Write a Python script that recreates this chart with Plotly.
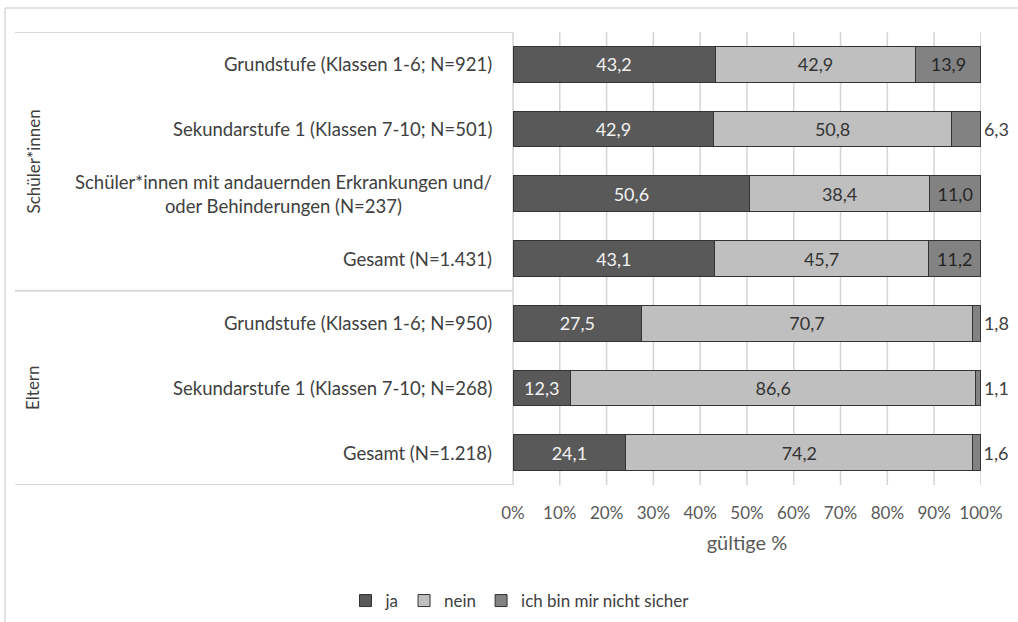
import plotly.graph_objects as go

categories = [
    "Grundstufe (Klassen 1-6; N=921)",
    "Sekundarstufe 1 (Klassen 7-10; N=501)",
    "Schüler*innen mit andauernden Erkrankungen und/<br>oder Behinderungen (N=237)",
    "Gesamt (N=1.431)",
    "Grundstufe (Klassen 1-6; N=950)",
    "Sekundarstufe 1 (Klassen 7-10; N=268)",
    "Gesamt (N=1.218)",
]
groups = ["Schüler*innen", "Eltern"]
group_members = [[0, 1, 2, 3], [4, 5, 6]]

ja = [43.2, 42.9, 50.6, 43.1, 27.5, 12.3, 24.1]
nein = [42.9, 50.8, 38.4, 45.7, 70.7, 86.6, 74.2]
unsicher = [13.9, 6.3, 11.0, 11.2, 1.8, 1.1, 1.6]
series_names = ["ja", "nein", "ich bin mir nicht sicher"]
x_ticks = [0, 10, 20, 30, 40, 50, 60, 70, 80, 90, 100]
x_tick_labels = ["0%", "10%", "20%", "30%", "40%", "50%", "60%", "70%", "80%", "90%", "100%"]
x_title = "gültige %"

FONT = "Lato"
TXT = "#404040"
FS = 17
FSL = 18.5
W, H = 1018, 622
ML, MR, MT, MB = 513, 37, 32, 137
PW, PH = W - ML - MR, H - MT - MB

def px_x(p):
    return (p - ML) / PW

def px_y(p):
    return (H - MB - p) / PH

unsicher_pos = ["inside" if v >= 10 else "outside" for v in unsicher]

fig = go.Figure()
fig.add_trace(go.Bar(
    y=categories, x=ja, name=series_names[0], orientation="h",
    marker=dict(color="#595959", line=dict(color="#333333", width=1)),
    texttemplate="%{x:.1f}", textposition="inside", insidetextanchor="middle",
    textfont=dict(color="#f2f2f2", size=18, family=FONT),
    cliponaxis=False,
))
fig.add_trace(go.Bar(
    y=categories, x=nein, name=series_names[1], orientation="h",
    marker=dict(color="#bfbfbf", line=dict(color="#333333", width=1)),
    texttemplate="%{x:.1f}", textposition="inside", insidetextanchor="middle",
    textfont=dict(color="#333333", size=18, family=FONT),
    cliponaxis=False,
))
fig.add_trace(go.Bar(
    y=categories, x=unsicher, name=series_names[2], orientation="h",
    marker=dict(color="#828282", line=dict(color="#333333", width=1)),
    texttemplate="%{x:.1f}", textposition=unsicher_pos, insidetextanchor="middle",
    textfont=dict(color="#262626", size=18, family=FONT),
    outsidetextfont=dict(color=TXT, size=18, family=FONT),
    cliponaxis=False,
))

annotations = []
for c in categories:
    annotations.append(dict(
        x=px_x(494), xref="paper", y=c, yref="y", text=c, showarrow=False,
        xanchor="right", yanchor="middle", align="center",
        font=dict(size=FSL, color=TXT, family=FONT),
    ))
for g, members in zip(groups, group_members):
    yc = (members[0] + members[-1]) / 2
    annotations.append(dict(
        x=px_x(33), xref="paper", y=yc, yref="y", text=g, showarrow=False,
        textangle=-90, xanchor="center", yanchor="middle",
        font=dict(size=FS, color=TXT, family=FONT),
    ))

line_col = "#d9d9d9"
grid_col = "#d4d4d4"
shapes = []
for t in x_ticks:
    shapes.append(dict(type="line", xref="x", yref="paper", x0=t, x1=t, y0=0, y1=1,
                       line=dict(color=grid_col, width=1.5), layer="below"))
for yb in [-0.5, 3.5, 6.5]:
    shapes.append(dict(type="line", xref="paper", yref="y", x0=px_x(15), x1=0,
                       y0=yb, y1=yb, line=dict(color=line_col, width=2), layer="below"))
shapes.append(dict(type="line", xref="paper", yref="y", x0=0, x1=0, y0=-0.5, y1=6.5,
                   line=dict(color=line_col, width=1.5), layer="below"))
shapes.append(dict(type="line", xref="paper", yref="paper", x0=px_x(5), x1=px_x(1030),
                   y0=px_y(8), y1=px_y(8), line=dict(color=line_col, width=1.5)))
shapes.append(dict(type="line", xref="paper", yref="paper", x0=px_x(5), x1=px_x(5),
                   y0=px_y(8), y1=px_y(640), line=dict(color=line_col, width=1.5)))

fig.update_layout(
    barmode="stack", bargap=0.45,
    width=W, height=H,
    margin=dict(l=ML, r=MR, t=MT, b=MB, autoexpand=False),
    paper_bgcolor="white", plot_bgcolor="rgba(0,0,0,0)",
    separators=",.",
    font=dict(family=FONT, color=TXT, size=FS),
    showlegend=True,
    legend=dict(orientation="h", x=px_x(520), xanchor="center", y=px_y(601), yanchor="middle",
                font=dict(size=FS, color=TXT, family=FONT), traceorder="normal",
                itemwidth=30, bgcolor="rgba(0,0,0,0)"),
    annotations=annotations,
    shapes=shapes,
)
fig.update_traces(constraintext="none")
fig.update_xaxes(
    range=[0, 100.02], tickmode="array", tickvals=x_ticks, ticktext=x_tick_labels,
    showgrid=False, zeroline=False, showline=False, automargin=False,
    ticks="outside", ticklen=13, tickcolor="rgba(255,255,255,0)",
    tickfont=dict(size=FS, color="#595959", family=FONT),
    title=dict(text=x_title, font=dict(size=20, color="#595959", family=FONT), standoff=13),
)
fig.update_yaxes(
    categoryorder="array", categoryarray=categories, range=[6.5, -0.5], automargin=False,
    showticklabels=False, showgrid=False, zeroline=False, showline=False, ticks="",
)

fig.write_html("out.html", config={"displayModeBar": False},
               post_script="document.body.style.margin='0';")
